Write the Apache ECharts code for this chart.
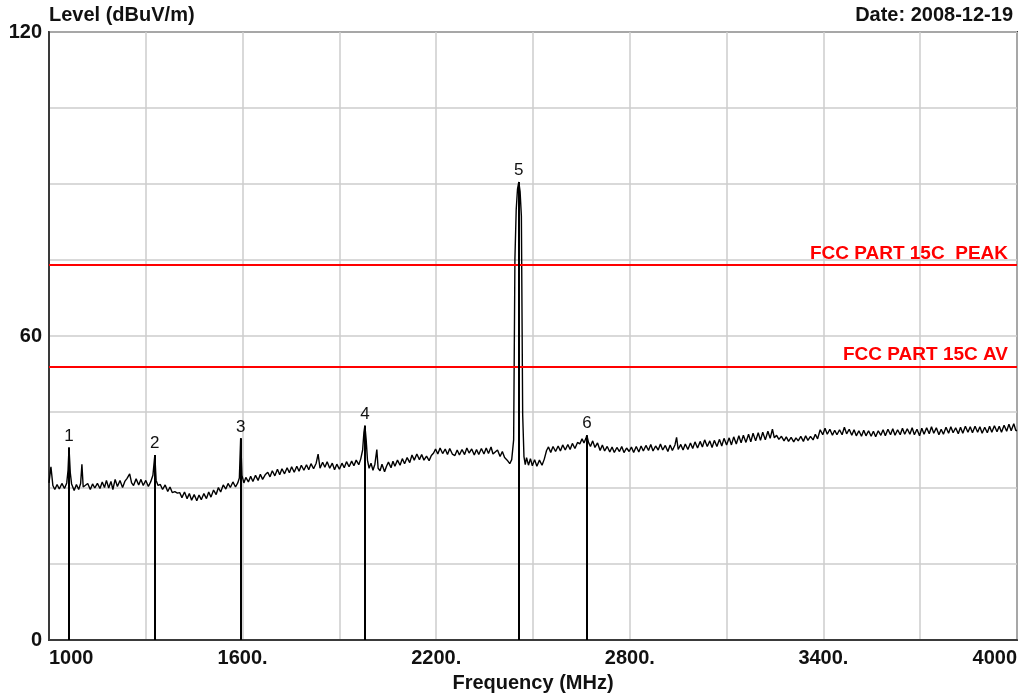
<!DOCTYPE html>
<html>
<head>
<meta charset="utf-8">
<script src="https://cdn.jsdelivr.net/npm/echarts@6/dist/echarts.min.js"></script>
<style>
html,body{margin:0;padding:0;background:#fff;}
#chart{width:1035px;height:698px;}
</style>
</head>
<body>
<div id="chart"></div>
<script>
// ---- Data ----
const yTickLabels = [0, 60, 120];
const xTickLabels = [1000, 1600, 2200, 2800, 3400, 4000];

const limitNames = ['FCC PART 15C  PEAK', 'FCC PART 15C AV'];
const limitLevels = [74, 54];

const markerNames = ['1', '2', '3', '4', '5', '6'];
const markerFreq = [1062, 1328, 1594, 1979, 2456, 2667];
const markerLevel = [38.0, 36.5, 39.8, 42.3, 90.4, 40.4];

// measured trace: [frequency MHz, level dBuV/m]
const trace = [
[1000,31.0],[1006,34.2],[1012,30.5],[1018,29.7],[1025,30.7],[1032,29.8],[1040,30.9],[1048,29.9],[1055,31.0],[1059,33.5],
[1062,38.0],[1066,33.0],[1070,30.8],[1078,29.5],[1085,30.7],[1092,29.7],[1098,30.9],[1102,34.7],[1106,30.2],[1112,29.9],
[1120,30.9],[1128,29.7],[1135,30.8],[1142,30.0],[1150,30.9],[1158,29.9],[1165,31.2],[1172,30.1],[1178,31.5],[1185,30.0],
[1192,31.3],[1198,29.7],[1205,31.7],[1212,30.3],[1220,31.5],[1228,30.1],[1235,31.3],[1242,31.9],[1250,32.8],[1256,31.0],
[1262,30.5],[1270,31.8],[1278,30.6],[1285,31.7],[1292,30.5],[1300,31.5],[1308,30.3],[1315,31.2],[1322,32.5],[1328,36.5],
[1332,31.5],[1338,30.5],[1345,30.7],[1352,29.7],[1360,30.6],[1368,29.3],[1375,30.2],[1382,29.1],[1390,29.3],[1398,29.0],
[1405,29.1],[1412,28.1],[1420,29.2],[1428,27.9],[1435,28.9],[1442,27.6],[1450,28.7],[1458,27.5],[1465,28.6],[1472,27.7],
[1480,28.9],[1488,27.9],[1495,29.2],[1502,28.2],[1510,29.6],[1518,28.7],[1525,30.1],[1532,29.2],[1540,30.6],[1548,29.8],
[1555,30.9],[1562,30.1],[1570,31.2],[1578,30.2],[1585,31.0],[1590,32.0],[1594,39.8],[1598,32.5],[1604,31.0],[1610,32.1],
[1618,31.2],[1625,32.3],[1632,31.3],[1640,32.5],[1648,31.5],[1655,32.7],[1662,31.7],[1670,32.6],[1678,33.1],[1685,32.2],
[1692,33.4],[1700,32.4],[1708,33.7],[1715,32.6],[1722,33.8],[1730,32.8],[1738,34.0],[1745,33.0],[1752,34.2],[1760,33.1],
[1768,34.3],[1775,33.3],[1782,34.5],[1790,33.5],[1798,34.6],[1805,33.6],[1812,34.8],[1820,33.8],[1828,34.9],[1834,36.7],
[1840,33.9],[1848,35.1],[1855,34.1],[1862,35.2],[1870,33.9],[1878,34.9],[1885,33.6],[1892,34.7],[1900,33.7],[1908,34.9],
[1915,34.0],[1922,35.2],[1930,34.2],[1938,35.3],[1945,34.4],[1952,35.5],[1960,34.6],[1966,35.7],[1972,37.5],[1976,41.0],
[1979,42.3],[1983,39.5],[1987,35.5],[1992,33.9],[1998,34.9],[2004,33.5],[2010,34.7],[2016,37.6],[2020,33.9],[2026,33.4],
[2032,34.7],[2040,33.2],[2046,34.3],[2052,35.1],[2060,34.0],[2066,35.3],[2072,34.3],[2080,35.5],[2088,34.5],[2095,35.8],
[2102,34.8],[2110,36.0],[2118,35.0],[2125,36.5],[2132,35.5],[2140,36.7],[2148,35.6],[2155,36.6],[2162,35.5],[2170,36.3],
[2178,35.4],[2185,36.4],[2192,36.9],[2198,37.7],[2205,36.7],[2212,37.9],[2220,36.8],[2228,37.7],[2235,36.6],[2242,37.8],
[2250,36.7],[2258,36.4],[2265,37.5],[2272,36.5],[2280,37.6],[2288,36.6],[2295,37.9],[2302,36.9],[2310,37.7],[2318,36.5],
[2325,37.6],[2332,36.6],[2340,37.8],[2348,36.7],[2355,37.9],[2362,36.8],[2370,38.1],[2376,36.7],[2382,36.5],[2390,37.5],
[2398,36.2],[2405,37.2],[2412,36.0],[2420,35.5],[2428,34.8],[2434,35.6],[2440,39.5],[2444,75.3],[2448,85.0],[2452,89.0],
[2456,90.4],[2460,88.5],[2464,83.7],[2468,44.5],[2472,36.2],[2476,34.6],[2480,36.0],[2486,34.5],[2492,35.8],[2498,34.4],
[2505,35.6],[2512,34.3],[2520,35.5],[2528,34.5],[2535,35.7],[2542,37.4],[2548,38.1],[2555,37.0],[2562,38.2],[2570,37.2],
[2578,38.3],[2585,37.3],[2592,38.5],[2600,37.5],[2608,38.6],[2615,37.6],[2622,38.8],[2630,37.8],[2638,39.0],[2645,38.7],
[2652,39.7],[2658,38.9],[2664,39.8],[2667,40.4],[2672,39.0],[2678,38.2],[2685,39.3],[2692,38.0],[2700,38.9],[2708,37.4],
[2715,38.5],[2722,37.3],[2730,38.2],[2738,37.1],[2745,38.1],[2752,37.0],[2760,38.0],[2768,37.2],[2775,38.2],[2782,37.0],
[2790,37.9],[2798,37.2],[2805,38.1],[2812,37.0],[2820,38.2],[2828,37.1],[2835,38.3],[2842,37.3],[2850,38.4],[2858,37.4],
[2865,38.6],[2872,37.3],[2880,38.3],[2888,37.5],[2895,38.7],[2902,37.5],[2910,38.4],[2918,37.2],[2925,38.5],[2932,37.4],
[2940,38.5],[2945,40.0],[2950,37.6],[2958,38.6],[2965,37.5],[2972,38.7],[2980,37.6],[2988,38.9],[2995,37.8],[3002,39.1],
[3010,37.9],[3018,39.2],[3025,38.1],[3032,39.5],[3040,38.2],[3048,39.3],[3055,38.0],[3062,39.4],[3070,38.2],[3078,39.6],
[3085,38.3],[3092,39.8],[3100,38.5],[3108,39.9],[3115,38.5],[3122,40.1],[3130,38.7],[3138,40.3],[3145,38.9],[3152,40.4],
[3160,39.0],[3168,40.6],[3175,39.1],[3182,40.8],[3190,39.3],[3198,40.9],[3205,39.4],[3212,41.0],[3220,39.5],[3228,41.2],
[3235,39.8],[3242,41.6],[3248,39.9],[3255,40.4],[3262,39.6],[3270,40.2],[3278,39.3],[3285,40.1],[3292,39.2],[3300,40.0],
[3308,39.1],[3315,39.9],[3322,39.3],[3330,40.2],[3338,39.2],[3345,40.3],[3352,39.4],[3360,40.2],[3368,39.5],[3375,40.6],
[3382,39.7],[3390,41.5],[3398,40.5],[3405,41.8],[3412,40.6],[3420,41.6],[3428,40.4],[3435,41.4],[3442,40.5],[3450,41.5],
[3458,40.5],[3465,42.0],[3472,40.7],[3480,41.6],[3488,40.4],[3495,41.5],[3502,40.3],[3510,41.3],[3518,40.2],[3525,41.4],
[3532,40.3],[3540,41.3],[3548,40.2],[3555,41.2],[3562,40.1],[3570,41.3],[3578,40.4],[3585,41.5],[3592,40.3],[3600,41.6],
[3608,40.5],[3615,41.7],[3622,40.4],[3630,41.5],[3638,40.5],[3645,41.8],[3652,40.6],[3660,41.7],[3668,40.6],[3675,41.9],
[3682,40.5],[3690,41.6],[3698,40.3],[3705,41.8],[3712,40.6],[3720,41.9],[3728,40.7],[3735,42.1],[3742,40.8],[3750,41.9],
[3758,40.5],[3765,41.6],[3772,40.6],[3780,42.0],[3788,40.8],[3795,42.1],[3802,40.9],[3810,41.9],[3818,40.7],[3825,42.0],
[3832,40.8],[3840,42.2],[3848,41.0],[3855,42.1],[3862,40.9],[3870,42.2],[3878,41.0],[3885,42.1],[3892,40.8],[3900,42.0],
[3908,40.9],[3915,42.2],[3922,41.0],[3930,42.3],[3938,41.1],[3945,42.2],[3952,41.0],[3960,42.4],[3968,41.2],[3975,42.6],
[3982,41.3],[3990,42.7],[3996,41.4],[4000,41.3]
];

// ---- Chart ----
const FONT = '"Liberation Sans", Arial, sans-serif';
const chart = echarts.init(document.getElementById('chart'), null, {renderer: 'canvas'});

const markLineData = [];
limitNames.forEach((n, i) => {
  markLineData.push({
    name: n,
    yAxis: limitLevels[i],
    lineStyle: {color: '#ff0000', width: 2, type: 'solid'},
    label: {
      show: true, position: 'insideEndTop', formatter: '{b}',
      color: '#ff0000', fontFamily: FONT, fontWeight: 'bold', fontSize: 19,
      distance: [9, 2]
    }
  });
});
markerNames.forEach((n, i) => {
  markLineData.push([
    {coord: [markerFreq[i], 0], name: n},
    {coord: [markerFreq[i], markerLevel[i]],
     lineStyle: {color: '#000', width: 2, type: 'solid'},
     label: {show: true, position: 'end', formatter: n, color: '#111',
             fontFamily: FONT, fontSize: 17, distance: 3}}
  ]);
});

const option = {
  animation: false,
  backgroundColor: '#ffffff',
  grid: {left: 49, right: 18, top: 32, bottom: 54, show: true,
         borderColor: '#3a3a3a', borderWidth: 2, backgroundColor: '#ffffff'},
  xAxis: {
    type: 'value', min: 1000, max: 4000, interval: 300,
    name: 'Frequency (MHz)', nameLocation: 'middle', nameGap: 33,
    nameTextStyle: {fontFamily: FONT, fontWeight: 'bold', fontSize: 20, color: '#111'},
    axisLine: {show: true, lineStyle: {color: '#3a3a3a', width: 2}},
    axisTick: {show: false},
    splitLine: {show: true, lineStyle: {color: '#cccccc', width: 1.5}},
    axisLabel: {
      fontFamily: FONT, fontWeight: 'bold', fontSize: 20, color: '#111', margin: 8,
      alignMinLabel: 'left', alignMaxLabel: 'right',
      formatter: function (v) {
        if (xTickLabels.indexOf(v) < 0) return '';
        if (v === xTickLabels[0] || v === xTickLabels[xTickLabels.length - 1]) return String(v);
        return v + '.';
      }
    }
  },
  yAxis: {
    type: 'value', min: 0, max: 120, interval: 15,
    name: 'Level (dBuV/m)', nameLocation: 'end', nameGap: 7,
    nameTextStyle: {fontFamily: FONT, fontWeight: 'bold', fontSize: 20, color: '#111', align: 'left', verticalAlign: 'bottom'},
    axisLine: {show: true, lineStyle: {color: '#3a3a3a', width: 2}},
    axisTick: {show: false},
    splitLine: {show: true, lineStyle: {color: '#cccccc', width: 1.5}},
    axisLabel: {
      fontFamily: FONT, fontWeight: 'bold', fontSize: 20, color: '#111', margin: 7,
      formatter: function (v) { return yTickLabels.indexOf(v) >= 0 ? String(v) : ''; }
    }
  },
  graphic: [{
    type: 'text', right: 22, top: 5,
    style: {text: 'Date: 2008-12-19', font: 'bold 20px ' + FONT, fill: '#111'}
  }],
  series: [{
    type: 'line',
    data: trace,
    showSymbol: false,
    symbol: 'none',
    lineStyle: {color: '#000', width: 1.4},
    z: 3,
    markLine: {
      silent: true,
      symbol: 'none',
      animation: false,
      data: markLineData
    }
  }]
};
chart.setOption(option);
</script>
</body>
</html>
